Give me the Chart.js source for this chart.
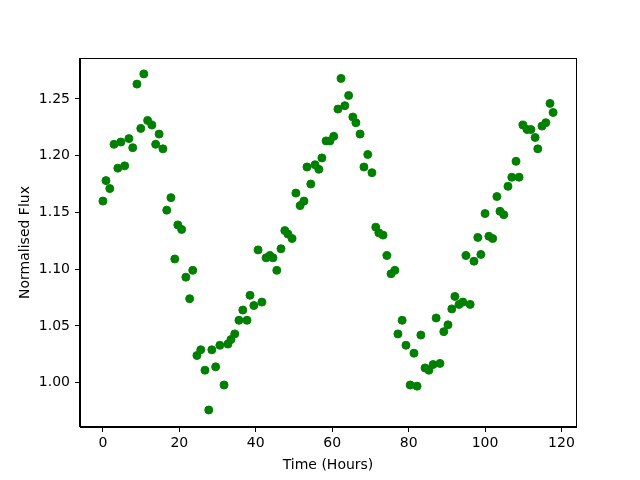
<!DOCTYPE html>
<html>
<head>
<meta charset="utf-8">
<script src="https://cdn.jsdelivr.net/npm/chart.js@4"></script>
<style>
  body { margin: 0; background: #fff; }
</style>
</head>
<body>
<canvas id="myChart" width="640" height="480"></canvas>
<script>
// Light curve: time in hours and normalised flux
const hours = [0,0.8,1.8,2.9,3.9,4.7,5.7,6.8,7.8,8.9,9.9,10.7,11.7,12.8,13.8,14.7,15.7,16.7,17.8,18.8,
  19.6,20.6,21.7,22.7,23.5,24.6,25.6,26.7,27.7,28.5,29.5,30.6,31.7,32.7,33.5,34.5,35.6,36.6,37.7,38.5,
  39.5,40.6,41.6,42.7,43.7,44.5,45.5,46.6,47.6,48.4,49.5,50.5,51.6,52.6,53.4,54.4,55.5,56.5,57.3,58.4,
  59.4,60.4,61.5,62.3,63.3,64.3,65.4,66.2,67.3,68.3,69.3,70.4,71.4,72.2,73.3,74.3,75.4,76.4,77.2,78.3,
  79.3,80.4,81.4,82.2,83.2,84.3,85.3,86.4,87.2,88.2,89.2,90.3,91.3,92.1,93.2,94.2,95.0,96.1,97.1,98.1,
  98.9,100.0,101.0,102.0,103.1,103.9,104.9,106.0,107.0,108.1,108.9,109.9,111.0,112.0,113.1,113.8,114.9,115.9,117.0,117.8];
const flux = [1.160,1.178,1.171,1.210,1.189,1.212,1.191,1.215,1.207,1.263,
  1.224,1.272,1.231,1.227,1.210,1.219,1.206,1.152,1.163,1.109,
  1.139,1.135,1.093,1.074,1.099,1.024,1.029,1.011,0.976,1.029,
  1.014,1.033,0.998,1.034,1.038,1.043,1.055,1.064,1.055,1.077,
  1.068,1.117,1.071,1.110,1.112,1.110,1.099,1.118,1.134,1.131,
  1.127,1.167,1.156,1.160,1.190,1.175,1.192,1.188,1.198,1.213,
  1.213,1.217,1.241,1.268,1.244,1.253,1.234,1.229,1.219,1.190,
  1.201,1.185,1.137,1.132,1.130,1.112,1.096,1.099,1.043,1.055,
  1.033,0.998,1.026,0.997,1.042,1.013,1.011,1.016,1.057,1.017,
  1.045,1.051,1.065,1.076,1.069,1.071,1.112,1.069,1.107,1.128,
  1.113,1.149,1.129,1.127,1.164,1.151,1.148,1.173,1.181,1.195,
  1.181,1.227,1.223,1.223,1.216,1.206,1.226,1.229,1.246,1.238];
const xTicks = [0, 20, 40, 60, 80, 100, 120];
const yTicks = [1.00, 1.05, 1.10, 1.15, 1.20, 1.25];

const points = hours.map((h, i) => ({x: h, y: flux[i]}));
const font = {family: 'DejaVu Sans', size: 14};

// draws the box around the plot area like matplotlib spines
const framePlugin = {
  id: 'frame',
  afterDraw(chart) {
    const a = chart.chartArea;
    const ctx = chart.ctx;
    ctx.save();
    ctx.strokeStyle = '#000';
    ctx.lineWidth = 1;
    ctx.strokeRect(Math.round(a.left) - 0.5, Math.round(a.top) + 0.5, Math.round(a.right - a.left) + 1, Math.round(a.bottom - a.top) - 1);
    ctx.restore();
  }
};

Chart.defaults.font.family = 'DejaVu Sans';
Chart.defaults.color = '#000';

new Chart(document.getElementById('myChart'), {
  type: 'scatter',
  data: {
    datasets: [{
      data: points,
      backgroundColor: '#008000',
      borderColor: '#008000',
      pointRadius: 4,
      borderWidth: 1
    }]
  },
  options: {
    responsive: false,
    animation: false,
    layout: {padding: {top: 58, right: 64, left: 0, bottom: 0}},
    plugins: {legend: {display: false}, tooltip: {enabled: false}},
    scales: {
      x: {
        type: 'linear',
        min: -6.0,
        max: 123.8,
        afterBuildTicks: s => { s.ticks = xTicks.map(v => ({value: v})); },
        afterFit: s => { s.height = 53; },
        grid: {drawOnChartArea: false, drawTicks: true, tickLength: 5, tickColor: '#000', tickWidth: 1},
        border: {display: true, color: '#000', width: 1},
        ticks: {font: font, color: '#000', padding: 3, maxRotation: 0, callback: v => String(v)},
        title: {display: true, text: 'Time (Hours)', font: font, color: '#000', padding: {top: 0, bottom: 6}}
      },
      y: {
        type: 'linear',
        min: 0.961,
        max: 1.286,
        afterBuildTicks: s => { s.ticks = yTicks.map(v => ({value: v})); },
        afterFit: s => { s.width = 80; },
        grid: {drawOnChartArea: false, drawTicks: true, tickLength: 5, tickColor: '#000', tickWidth: 1},
        border: {display: true, color: '#000', width: 1},
        ticks: {font: font, color: '#000', padding: 5, callback: v => v.toFixed(2)},
        title: {display: true, text: 'Normalised Flux', font: font, color: '#000', padding: {top: 17, bottom: 0}}
      }
    }
  },
  plugins: [framePlugin]
});
</script>
</body>
</html>
